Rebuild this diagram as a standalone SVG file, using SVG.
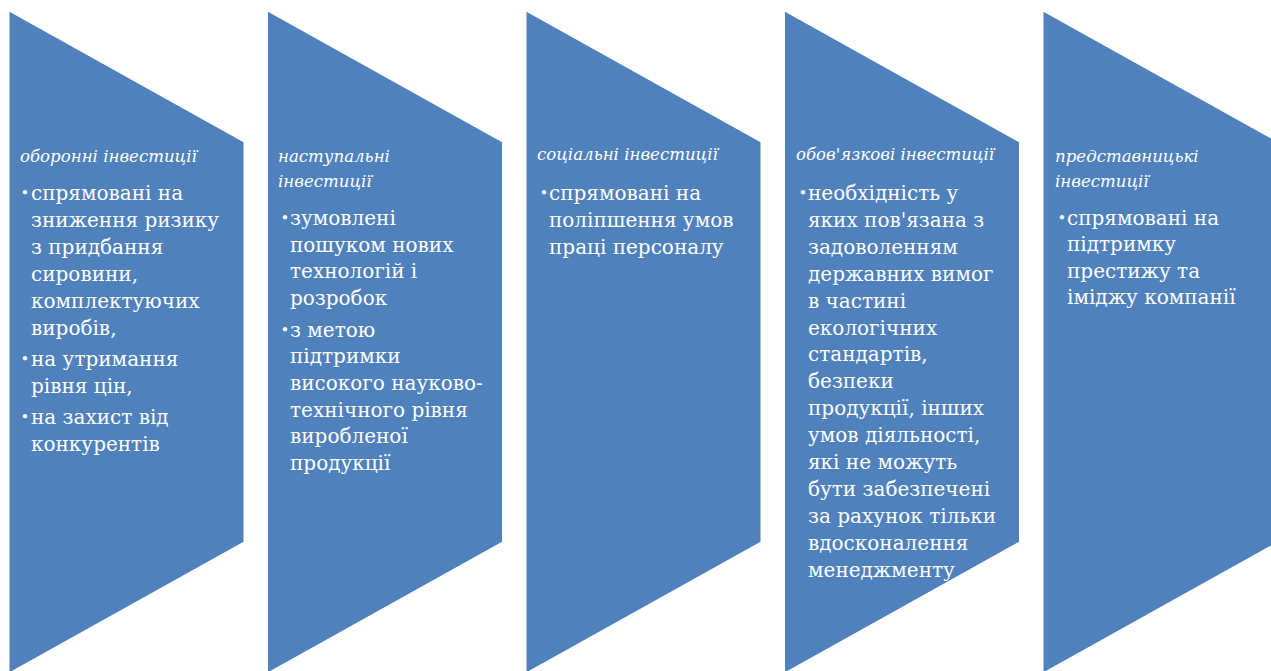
<svg xmlns="http://www.w3.org/2000/svg" xmlns:xlink="http://www.w3.org/1999/xlink" width="1271" height="671" viewBox="0 0 1271 671">
<style>
.shape{fill:#4F81BD;stroke:#FFFFFF;stroke-width:1}
text{font-family:'DejaVu Serif', serif;fill:#FFFFFF}
.title{font-style:italic;font-size:16.6px}
.body{font-size:20px}
.bul{font-size:15px}
</style>
<defs>
<polygon id="chev" points="0,11 235,142 235,542 0,673"/>
</defs>
<rect width="1271" height="671" fill="#FFFFFF"/>
<g id="connectors"></g>
<g id="node1">
<use xlink:href="#chev" class="shape" x="9"/>
<text class="title" x="20" y="162">оборонні інвестиції</text>
<text class="bul" x="20.5" y="198">•</text>
<text class="bul" x="20.5" y="364">•</text>
<text class="bul" x="20.5" y="422">•</text>
<text class="body">
<tspan x="31" y="200">спрямовані на</tspan>
<tspan x="31" y="227">зниження ризику</tspan>
<tspan x="31" y="254">з придбання</tspan>
<tspan x="31" y="281">сировини,</tspan>
<tspan x="31" y="308">комплектуючих</tspan>
<tspan x="31" y="335">виробів,</tspan>
<tspan x="31" y="366">на утримання</tspan>
<tspan x="31" y="393">рівня цін,</tspan>
<tspan x="31" y="424">на захист від</tspan>
<tspan x="31" y="451">конкурентів</tspan>
</text>
</g>
<g id="node2">
<use xlink:href="#chev" class="shape" x="267.5"/>
<text class="title"><tspan x="278" y="162">наступальні</tspan><tspan x="278" y="187">інвестиції</tspan></text>
<text class="bul" x="280.5" y="223">•</text>
<text class="bul" x="280.5" y="335">•</text>
<text class="body">
<tspan x="290" y="225">зумовлені</tspan>
<tspan x="290" y="252">пошуком нових</tspan>
<tspan x="290" y="278">технологій і</tspan>
<tspan x="290" y="305">розробок</tspan>
<tspan x="290" y="337">з метою</tspan>
<tspan x="290" y="363">підтримки</tspan>
<tspan x="290" y="390">високого науково-</tspan>
<tspan x="290" y="417">технічного рівня</tspan>
<tspan x="290" y="443">виробленої</tspan>
<tspan x="290" y="470">продукції</tspan>
</text>
</g>
<g id="node3">
<use xlink:href="#chev" class="shape" x="526"/>
<text class="title" x="537" y="160">соціальні інвестиції</text>
<text class="bul" x="539.5" y="198">•</text>
<text class="body">
<tspan x="549" y="200">спрямовані на</tspan>
<tspan x="549" y="227">поліпшення умов</tspan>
<tspan x="549" y="254">праці персоналу</tspan>
</text>
</g>
<g id="node4">
<use xlink:href="#chev" class="shape" x="784.5"/>
<text class="title" x="796" y="160">обов'язкові інвестиції</text>
<text class="bul" x="798.5" y="198">•</text>
<text class="body">
<tspan x="808" y="200">необхідність у</tspan>
<tspan x="808" y="227">яких пов'язана з</tspan>
<tspan x="808" y="254">задоволенням</tspan>
<tspan x="808" y="281">державних вимог</tspan>
<tspan x="808" y="308">в частині</tspan>
<tspan x="808" y="335">екологічних</tspan>
<tspan x="808" y="361">стандартів,</tspan>
<tspan x="808" y="388">безпеки</tspan>
<tspan x="808" y="415">продукції, інших</tspan>
<tspan x="808" y="442">умов діяльності,</tspan>
<tspan x="808" y="469">які не можуть</tspan>
<tspan x="808" y="496">бути забезпечені</tspan>
<tspan x="808" y="523">за рахунок тільки</tspan>
<tspan x="808" y="550">вдосконалення</tspan>
<tspan x="808" y="577">менеджменту</tspan>
</text>
</g>
<g id="node5">
<use xlink:href="#chev" class="shape" x="1043"/>
<text class="title"><tspan x="1055" y="162">представницькі</tspan><tspan x="1055" y="187">інвестиції</tspan></text>
<text class="bul" x="1057.5" y="223">•</text>
<text class="body">
<tspan x="1067" y="225">спрямовані на</tspan>
<tspan x="1067" y="251">підтримку</tspan>
<tspan x="1067" y="278">престижу та</tspan>
<tspan x="1067" y="304">іміджу компанії</tspan>
</text>
</g>
</svg>
